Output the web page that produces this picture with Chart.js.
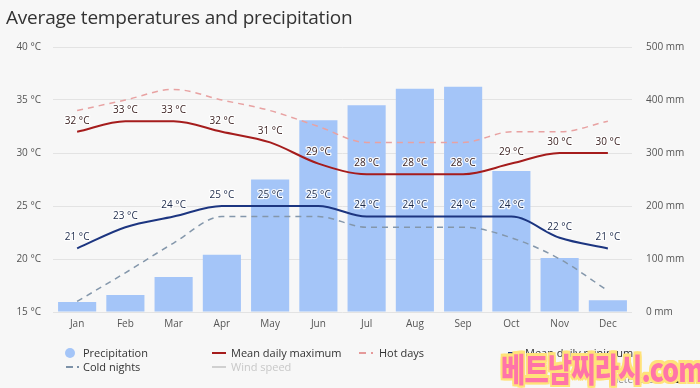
<!DOCTYPE html>
<html>
<head>
<meta charset="utf-8">
<script src="https://cdn.jsdelivr.net/npm/chart.js@4.4.1/dist/chart.umd.min.js"></script>
<style>
  html, body { margin:0; padding:0; background:#f7f7f7; }
  #wrap { position:relative; width:700px; height:388px; overflow:hidden; background:#f7f7f7; font-family:"Open Sans", "Noto Sans", sans-serif; }
  #c { position:absolute; left:0; top:0; }
  #title { position:absolute; left:6px; top:4px; font-size:19px; color:#333; font-family:"Open Sans", sans-serif; white-space:nowrap; letter-spacing:-0.2px; }
  .lg { position:absolute; font-size:11px; color:#333; white-space:nowrap; line-height:14px; }
  .sym { position:absolute; }
  #wm { position:absolute; left:501px; top:346px; font-family:"Noto Sans CJK KR", sans-serif; font-weight:900; font-size:30px; line-height:40px; color:#ff74a8; white-space:nowrap; letter-spacing:-1px;
        transform: scale(0.88, 1.08); transform-origin: left top;
        text-shadow: 2px 0 0 #ffe27a, -2px 0 0 #ffe27a, 0 2px 0 #ffe27a, 0 -2px 0 #ffe27a, 2px 2px 0 #ffe27a, -2px -2px 0 #ffe27a, 2px -2px 0 #ffe27a, -2px 2px 0 #ffe27a; }
</style>
</head>
<body>
<div id="wrap">
  <canvas id="c" width="700" height="388"></canvas>
  <div id="title">Average temperatures and precipitation</div>

  <div class="sym" style="left:65px;top:348px;width:10px;height:10px;border-radius:50%;background:#a4c5f8;"></div>
  <div class="lg" style="left:83px;top:346px;">Precipitation</div>

  <div class="sym" style="left:212px;top:352px;width:14px;height:2px;background:#a51c1c;"></div>
  <div class="lg" style="left:231px;top:346px;">Mean daily maximum</div>

  <div class="sym" style="left:359px;top:352px;width:7px;height:1.5px;background:#e59a9a;"></div>
  <div class="sym" style="left:371px;top:352px;width:2px;height:1.5px;background:#e59a9a;"></div>
  <div class="lg" style="left:379px;top:346px;">Hot days</div>

  <div class="sym" style="left:508px;top:352px;width:14px;height:2px;background:#1c3580;"></div>
  <div class="lg" style="left:525px;top:346px;">Mean daily minimum</div>

  <div class="sym" style="left:66px;top:366px;width:7px;height:1.5px;background:#7d92a8;"></div>
  <div class="sym" style="left:77px;top:366px;width:2px;height:1.5px;background:#7d92a8;"></div>
  <div class="lg" style="left:83px;top:360px;">Cold nights</div>

  <div class="sym" style="left:212px;top:366px;width:14px;height:2px;background:#d0d0d0;"></div>
  <div class="lg" style="left:231px;top:360px;color:#c8c8c8;">Wind speed</div>

  <div class="lg" style="left:609px;top:372px;font-size:10px;color:#8a8a8a;">meteoblue</div>
  <div class="sym" style="left:670px;top:373px;width:13px;height:2px;background:#333;"></div>
  <div class="sym" style="left:670px;top:377px;width:13px;height:2px;background:#333;"></div>
  <div class="sym" style="left:670px;top:381px;width:13px;height:2px;background:#333;"></div>

  <div id="wm">베트남찌라시.com</div>
</div>
<script>
const months = ['Jan','Feb','Mar','Apr','May','Jun','Jul','Aug','Sep','Oct','Nov','Dec'];
const precipitation = [19, 32, 66, 108, 250, 362, 390, 421, 425, 266, 102, 22];
const meanMax = [32, 33, 33, 32, 31, 29, 28, 28, 28, 29, 30, 30];
const hotDays = [34, 35, 36, 35, 34, 32.5, 31, 31, 31, 32, 32, 33];
const meanMin = [21, 23, 24, 25, 25, 25, 24, 24, 24, 24, 22, 21];
const coldNights = [16, 18.7, 21.5, 24, 24, 24, 23, 23, 23, 22, 20, 17];
const tempTicks = [15, 20, 25, 30, 35, 40];
const precipTicks = [0, 100, 200, 300, 400, 500];

const labelPlugin = {
  id: 'pointLabels',
  afterDatasetsDraw(chart) {
    const ctx = chart.ctx;
    chart.data.datasets.forEach((ds, i) => {
      if (!ds.labelColor) return;
      const meta = chart.getDatasetMeta(i);
      ctx.save();
      ctx.font = '10px "Open Sans", sans-serif';
      ctx.textAlign = 'center';
      ctx.textBaseline = 'middle';
      ctx.lineJoin = 'round';
      meta.data.forEach((pt, j) => {
        const t = ds.data[j] + ' °C';
        ctx.strokeStyle = 'rgba(255,255,255,0.9)';
        ctx.lineWidth = 2.5;
        ctx.strokeText(t, pt.x, pt.y - 11);
        ctx.fillStyle = ds.labelColor;
        ctx.fillText(t, pt.x, pt.y - 11);
      });
      ctx.restore();
    });
  }
};

new Chart(document.getElementById('c'), {
  type: 'bar',
  data: {
    labels: months,
    datasets: [
      { type:'line', label:'Mean daily maximum', data: meanMax, yAxisID:'y', borderColor:'#a51c1c', borderWidth:2, pointRadius:0, cubicInterpolationMode:'monotone', fill:false, order:1, labelColor:'#3d2424' },
      { type:'line', label:'Hot days', data: hotDays, yAxisID:'y', borderColor:'#e8a2a2', borderWidth:1.5, borderDash:[6,5], pointRadius:0, cubicInterpolationMode:'monotone', fill:false, order:2 },
      { type:'line', label:'Mean daily minimum', data: meanMin, yAxisID:'y', borderColor:'#1c3580', borderWidth:2, pointRadius:0, cubicInterpolationMode:'monotone', fill:false, order:1, labelColor:'#1f2c4c' },
      { type:'line', label:'Cold nights', data: coldNights, yAxisID:'y', borderColor:'#8497ab', borderWidth:1.5, borderDash:[6,5], pointRadius:0, cubicInterpolationMode:'monotone', fill:false, order:2 },
      { type:'bar', label:'Precipitation', data: precipitation, yAxisID:'y1', backgroundColor:'#a4c5f8', borderWidth:0, barPercentage:0.79, categoryPercentage:1.0, order:10 }
    ]
  },
  options: {
    responsive:false, animation:false, devicePixelRatio:1,
    layout:{ padding:{ top:47, left:0, right:0, bottom:0 } },
    plugins:{ legend:{display:false}, tooltip:{enabled:false}, title:{display:false} },
    scales:{
      x:{ grid:{display:false, drawTicks:false}, border:{display:false},
          ticks:{ color:'#555', font:{size:10, family:'"Open Sans", sans-serif'}, padding:6 },
          afterFit(s){ s.height = 76; } },
      y:{ position:'left', min:15, max:40, afterBuildTicks(s){ s.ticks = tempTicks.map(v=>({value:v})); },
          grid:{ color:'#e3e3e3', drawTicks:false }, border:{display:false},
          ticks:{ color:'#555', font:{size:10, family:'"Open Sans", sans-serif'}, padding:12, callback:v=>v+' °C' },
          afterFit(s){ s.width = 53; } },
      y1:{ position:'right', min:0, max:500, afterBuildTicks(s){ s.ticks = precipTicks.map(v=>({value:v})); },
          grid:{ drawOnChartArea:false, drawTicks:false }, border:{display:false},
          ticks:{ color:'#555', font:{size:10, family:'"Open Sans", sans-serif'}, padding:14, callback:v=>v+' mm' },
          afterFit(s){ s.width = 68; } }
    }
  },
  plugins:[labelPlugin]
});
</script>
</body>
</html>
